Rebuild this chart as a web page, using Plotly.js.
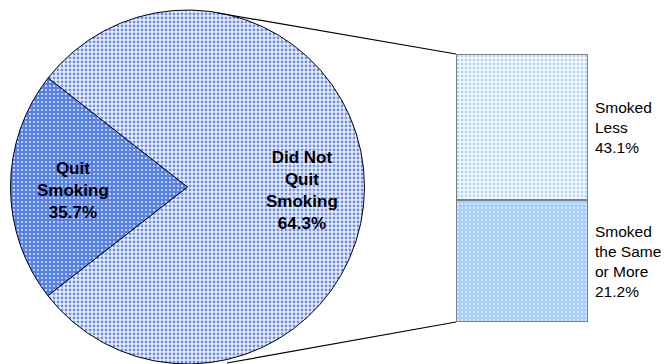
<!DOCTYPE html>
<html><head><meta charset="utf-8">
<script src="https://cdn.plot.ly/plotly-3.0.1.min.js"></script>
<style>html,body{margin:0;padding:0;background:#fff}#chart{width:665px;height:364px}</style>
</head><body><div id="chart"></div>
<script>
// Pie: categories, printed percentages, and the slice shares as drawn in the picture
var pieCategories = ["Quit<br>Smoking", "Did Not<br>Quit<br>Smoking"];
var piePercentText = ["35.7%", "64.3%"];
var pieDrawnShare = [21.1, 78.9];

// Bar (breakdown of "Did Not Quit"): categories, printed percentages, drawn shares
var barCategories = ["Smoked<br>the Same<br>or More", "Smoked<br>Less"];
var barPercentText = ["21.2%", "43.1%"];
var barDrawnShare = [45.5, 54.5];

var W = 665, H = 364;
function px(x){return x/W;} function py(y){return 1-y/H;}

var pie = {
  type: "pie", values: pieDrawnShare, labels: pieCategories, sort: false,
  direction: "clockwise", rotation: 232.1, textinfo: "none", hoverinfo: "label",
  domain: {x: [px(10), px(365)], y: [0, py(10)]},
  marker: {
    colors: ["#5a82f0", "#e6ecfc"],
    line: {color: "#000", width: 1},
    pattern: {shape: ".", size: 4, solidity: [0.2, 0.42],
      fgcolor: ["#e8eeff", "#6f8ff0"], bgcolor: ["#5580f0", "#eef2fd"], fillmode: "replace"}
  },
  showlegend: false
};

var bars = barCategories.map(function(c, i){
  return {
    type: "bar", x: [0], y: [barDrawnShare[i]], name: c, xaxis: "x", yaxis: "y",
    width: 1, hoverinfo: "name",
    marker: {
      color: i === 0 ? "#a8d0ff" : "#ffffff",
      line: {color: "#7f7f7f", width: 1.5},
      pattern: {shape: ".", size: 4, solidity: i === 0 ? 0.2 : 0.42,
        fgcolor: i === 0 ? "#e6f1ff" : "#aed2ff", bgcolor: i === 0 ? "#a8d0ff" : "#ffffff", fillmode: "replace"}
    },
    showlegend: false
  };
});

var total = barDrawnShare.reduce(function(a,b){return a+b;}, 0);
var annotations = [];
// pie labels
var pieLabelPos = [[73, 190], [302, 190]];
pieCategories.forEach(function(c, i){
  annotations.push({xref: "paper", yref: "paper", x: px(pieLabelPos[i][0]), y: py(pieLabelPos[i][1]),
    text: "<b>" + c + "<br>" + piePercentText[i] + "</b>", showarrow: false,
    xanchor: "center", yanchor: "middle", align: "center",
    font: {family: "Liberation Sans, Arial, sans-serif", size: 17, color: "#000"}});
});
// bar labels, placed at each segment's middle on the bar's value axis
var cum = 0;
barCategories.forEach(function(c, i){
  var mid = cum + barDrawnShare[i]/2; cum += barDrawnShare[i];
  annotations.push({xref: "x", yref: "y", x: 0.5, y: mid, xshift: 5,
    text: c + "<br>" + barPercentText[i], showarrow: false,
    xanchor: "left", yanchor: "middle", align: "left",
    font: {family: "Liberation Sans, Arial, sans-serif", size: 15.5, color: "#000"}});
});

var layout = {
  width: W, height: H, margin: {l: 0, r: 0, t: 0, b: 0},
  paper_bgcolor: "#fff", plot_bgcolor: "rgba(0,0,0,0)",
  barmode: "stack", bargap: 0,
  xaxis: {domain: [px(456), px(588)], range: [-0.5, 0.5], visible: false, fixedrange: true},
  yaxis: {domain: [py(322), py(54)], range: [0, total], visible: false, fixedrange: true},
  annotations: annotations,
  shapes: [
    {type: "line", xref: "paper", yref: "paper", x0: px(218), y0: py(13), x1: px(456), y1: py(54), line: {color: "#000", width: 1.2}},
    {type: "line", xref: "paper", yref: "paper", x0: px(227), y0: py(363), x1: px(456), y1: py(322), line: {color: "#000", width: 1.2}}
  ]
};

Plotly.newPlot("chart", [pie].concat(bars), layout, {displayModeBar: false, staticPlot: true});
</script></body></html>
